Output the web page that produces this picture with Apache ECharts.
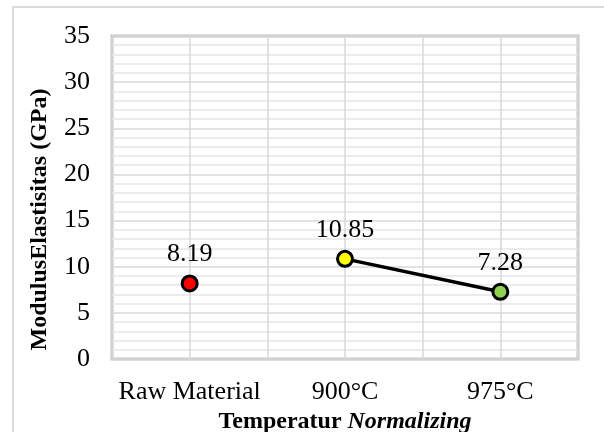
<!DOCTYPE html>
<html>
<head>
<meta charset="utf-8">
<script src="https://cdn.jsdelivr.net/npm/echarts@6/dist/echarts.min.js"></script>
<style>
  html, body { margin: 0; padding: 0; background: #fff; }
  #main { width: 604px; height: 432px; }
</style>
</head>
<body>
<div id="main"></div>
<script>
// categories and values
const categories = ["Raw Material", "900°C", "975°C"];
const rawValues = [8.19];
const treatedValues = [10.85, 7.28];
const pointColors = ["#ff0000", "#ffff00", "#92d050"];
const yTicks = [0, 5, 10, 15, 20, 25, 30, 35];

const font = "Liberation Serif";

// x position of each category = its centre on a 0..3 value axis
let rawData = rawValues.map((v, i) => ({
  value: [i + 0.5, v],
  itemStyle: { color: pointColors[i] },
}));
let treatedData = treatedValues.map((v, i) => ({
  value: [i + 1 + 0.5, v],
  itemStyle: { color: pointColors[i + 1] },
}));

const labelStyle = {
  show: true,
  position: "top",
  distance: 7,
  color: "#000",
  fontSize: 26,
  fontFamily: font,
  formatter: (p) => p.value[1].toFixed(2),
};

var myChart = echarts.init(document.getElementById("main"));
let option = {
  backgroundColor: "#fff",
  animation: false,
  graphic: [
    {
      type: "rect",
      shape: { x: 13, y: 7, width: 600, height: 430 },
      style: { fill: "none", stroke: "#cfcfcf", lineWidth: 1.5 },
      silent: true,
    },
  ],
  grid: {
    left: 112,
    top: 36,
    right: 26,
    bottom: 73,
    outerBoundsMode: "none",
    show: true,
    borderColor: "#c0c0c0",
    borderWidth: 3,
  },
  xAxis: {
    type: "value",
    min: 0,
    max: categories.length,
    interval: 0.5,
    axisLine: { show: false },
    axisTick: { show: false },
    splitLine: { show: true, lineStyle: { color: "#d9d9d9", width: 1.5 } },
    axisLabel: {
      margin: 20,
      color: "#000",
      fontSize: 26,
      fontFamily: font,
      formatter: (v) => {
        let i = v - 0.5;
        return Number.isInteger(i) ? categories[i] : "";
      },
    },
    name: "{b|Temperatur }{i|Normalizing}",
    nameLocation: "middle",
    nameGap: 45,
    nameTextStyle: {
      rich: {
        b: { fontSize: 24, fontWeight: "bold", fontFamily: font, color: "#000" },
        i: { fontSize: 24, fontWeight: "bold", fontStyle: "italic", fontFamily: font, color: "#000" },
      },
    },
  },
  yAxis: {
    type: "value",
    min: yTicks[0],
    max: yTicks[yTicks.length - 1],
    interval: 5,
    axisLine: { show: false },
    axisTick: { show: false },
    splitLine: { show: true, lineStyle: { color: "#d9d9d9", width: 1.5 } },
    minorTick: { show: false, splitNumber: 5 },
    minorSplitLine: { show: true, lineStyle: { color: "#e6e6e6", width: 1.5 } },
    axisLabel: {
      margin: 22,
      color: "#000",
      fontSize: 26,
      fontFamily: font,
    },
    name: "ModulusElastisitas (GPa)",
    nameLocation: "middle",
    nameRotate: 90,
    nameGap: 60,
    nameTextStyle: {
      fontSize: 24,
      fontWeight: "bold",
      fontFamily: font,
      color: "#000",
      // nudge the title down a little, like the reference
      padding: [0, 44, 0, 0],
    },
  },
  series: [
    {
      type: "line",
      data: rawData,
      symbol: "circle",
      symbolSize: 15,
      itemStyle: { borderColor: "#000", borderWidth: 3 },
      lineStyle: { color: "#000", width: 3 },
      label: labelStyle,
    },
    {
      type: "line",
      data: treatedData,
      symbol: "circle",
      symbolSize: 15,
      itemStyle: { borderColor: "#000", borderWidth: 3 },
      lineStyle: { color: "#000", width: 3.5 },
      label: labelStyle,
    },
  ],
};
option && myChart.setOption(option);
</script>
</body>
</html>
